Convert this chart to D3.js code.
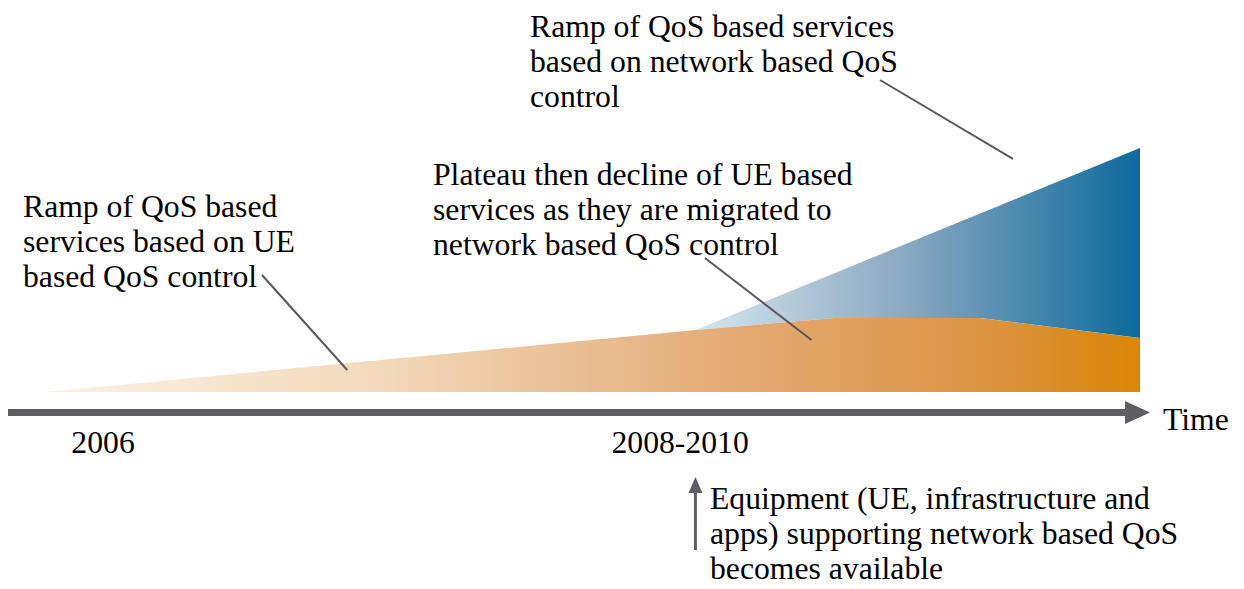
<!DOCTYPE html>
<html>
<head>
<meta charset="utf-8">
<script src="https://cdn.jsdelivr.net/npm/d3@7"></script>
<style>
  body { margin: 0; background: #fff; }
  text { font-family: "Liberation Serif", "Times New Roman", serif; fill: #000; }
</style>
</head>
<body>
<div id="chart"></div>
<script>
// relative time (0 = start of ramp, 100 = end of chart) and relative adoption level
var time = [0, 59.4, 72.1, 85.4, 100];
var ueBased = [0, 25.4, 30.3, 30.3, 22.1];
var networkBased = [0, 0, 18.4, 42.9, 77.9];

var tickTimes = [5.3, 58];
var tickLabels = ["2006", "2008-2010"];
var equipmentTime = 59.4;

var annotations = [
	{ lines: ["Ramp of QoS based", "services based on UE", "based QoS control"], t: 27.6, v: 9.0 },
	{ lines: ["Plateau then decline of UE based", "services as they are migrated to", "network based QoS control"], t: 70.0, v: 21.3 },
	{ lines: ["Ramp of QoS based services", "based on network based QoS", "control"], t: 88.4, v: 95.5 }
];
var equipmentLines = ["Equipment (UE, infrastructure and", "apps) supporting network based QoS", "becomes available"];

var width = 1244, height = 589;
var fontSize = 31.7;
var svg = d3.select("#chart").append("svg").attr("width", width).attr("height", height);

var x = d3.scaleLinear().domain([0, 100]).range([45, 1140]);
var y = d3.scaleLinear().domain([0, 100]).range([392, 148]);

var data = d3.range(time.length).map(function(i) {
	return { t: time[i], ue: ueBased[i], net: networkBased[i] };
});

// gradients
var defs = svg.append("defs");
var og = defs.append("linearGradient").attr("id", "orangeGrad")
	.attr("gradientUnits", "userSpaceOnUse")
	.attr("x1", x(0)).attr("x2", x(100)).attr("y1", 0).attr("y2", 0);
og.append("stop").attr("offset", 0).attr("stop-color", "#fbf1e5");
og.append("stop").attr("offset", 0.3).attr("stop-color", "#f2d9bb");
og.append("stop").attr("offset", 0.6).attr("stop-color", "#e5ae7b");
og.append("stop").attr("offset", 0.85).attr("stop-color", "#dc9445");
og.append("stop").attr("offset", 1).attr("stop-color", "#d98607");

var bg = defs.append("linearGradient").attr("id", "blueGrad")
	.attr("gradientUnits", "userSpaceOnUse")
	.attr("x1", x(equipmentTime)).attr("x2", x(100)).attr("y1", 0).attr("y2", 0);
bg.append("stop").attr("offset", 0).attr("stop-color", "#d4e6ef");
bg.append("stop").attr("offset", 0.45).attr("stop-color", "#8fabc3");
bg.append("stop").attr("offset", 1).attr("stop-color", "#0d6a9c");

// network based area stacked on top of UE based
var netArea = d3.area()
	.defined(function(d) { return d.t >= equipmentTime; })
	.x(function(d) { return x(d.t); })
	.y0(function(d) { return y(d.ue); })
	.y1(function(d) { return y(d.ue + d.net); });

var ueArea = d3.area()
	.x(function(d) { return x(d.t); })
	.y0(y(0))
	.y1(function(d) { return y(d.ue); });

svg.append("path").datum(data).attr("d", netArea).attr("fill", "url(#blueGrad)");
svg.append("path").datum(data).attr("d", ueArea).attr("fill", "url(#orangeGrad)");

// time axis arrow
var axisY = 412.5;
var axisColor = "#5e5d63";
svg.append("line")
	.attr("x1", 8).attr("x2", 1128)
	.attr("y1", axisY).attr("y2", axisY)
	.attr("stroke", axisColor).attr("stroke-width", 7);
svg.append("path")
	.attr("d", "M1150," + axisY + "L1125," + (axisY - 11.5) + "L1125," + (axisY + 11.5) + "Z")
	.attr("fill", axisColor);
svg.append("text").attr("x", 1163).attr("y", 430).attr("font-size", fontSize).text("Time");

svg.selectAll(".tick-label")
	.data(tickLabels)
	.enter().append("text")
	.attr("class", "tick-label")
	.attr("x", function(d, i) { return x(tickTimes[i]); })
	.attr("y", 453)
	.attr("text-anchor", "middle")
	.attr("font-size", fontSize)
	.text(function(d) { return d; });

// annotation text blocks
var labelPos = [
	{ x: 23, y: 217, lx: 262, ly: 275 },
	{ x: 433, y: 185, lx: 705, ly: 258 },
	{ x: 530, y: 37, lx: 880, ly: 80 }
];

annotations.forEach(function(a, i) {
	var p = labelPos[i];
	var txt = svg.append("text").attr("font-size", fontSize);
	a.lines.forEach(function(line, j) {
		txt.append("tspan").attr("x", p.x).attr("y", p.y + j * 35).text(line);
	});
	svg.append("line")
		.attr("x1", p.lx).attr("y1", p.ly)
		.attr("x2", x(a.t)).attr("y2", y(a.v))
		.attr("stroke", "#58585e").attr("stroke-width", 2);
});

// equipment availability arrow
var ex = x(equipmentTime);
svg.append("line")
	.attr("x1", ex).attr("x2", ex).attr("y1", 550).attr("y2", 490)
	.attr("stroke", axisColor).attr("stroke-width", 3);
svg.append("path")
	.attr("d", "M" + ex + ",477L" + (ex - 7) + ",493L" + (ex + 7) + ",493Z")
	.attr("fill", axisColor);

var eq = svg.append("text").attr("font-size", fontSize);
equipmentLines.forEach(function(line, j) {
	eq.append("tspan").attr("x", 710).attr("y", 509 + j * 35).text(line);
});
</script>
</body>
</html>
